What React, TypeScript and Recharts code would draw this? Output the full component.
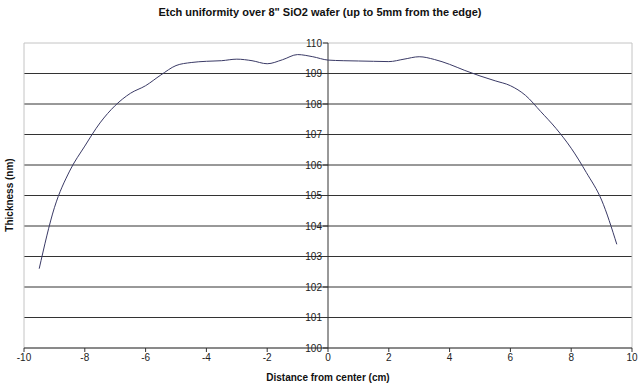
import { CartesianGrid, Line, LineChart, ReferenceArea, ReferenceLine, XAxis, YAxis } from "recharts";

const distance = [
  -9.5, -9, -8.5, -8, -7.5, -7, -6.5, -6, -5.5, -5, -4.5, -4, -3.5, -3, -2.5, -2, -1.5, -1, -0.5, 0,
  0.5, 1, 1.5, 2, 2.5, 3, 3.5, 4, 4.5, 5, 5.5, 6, 6.5, 7, 7.5, 8, 8.5, 9, 9.5,
];
const thickness = [
  102.6, 104.6, 105.8, 106.62, 107.38, 107.95, 108.35, 108.6, 108.95, 109.26, 109.36, 109.4, 109.42,
  109.47, 109.42, 109.32, 109.45, 109.62, 109.55, 109.44, 109.42, 109.41, 109.4, 109.39, 109.47,
  109.55, 109.46, 109.3, 109.1, 108.92, 108.76, 108.6, 108.28, 107.75, 107.2, 106.55, 105.75, 104.85,
  103.4,
];
const xTicks = [-10, -8, -6, -4, -2, 0, 2, 4, 6, 8, 10];
const yTicks = [100, 101, 102, 103, 104, 105, 106, 107, 108, 109, 110];
const gridValues = [101, 102, 103, 104, 105, 106, 107, 108, 109];

const W = 640;
const H = 383;
const M = { top: 43, right: 8, left: 24, bottom: 0 };
const FONT = "'Liberation Sans', Arial, sans-serif";

const rows = distance.map((d, i) => ({ d, t: thickness[i] }));

// y labels sit on the x=0 axis line, not at the left edge
function centerTick(value: number) {
  return (props: any) => {
    const vb = props.viewBox;
    const cx = vb.x + vb.width / 2;
    return (
      <g>
        <line x1={cx - 5} x2={cx} y1={vb.y} y2={vb.y} stroke="#333" />
        <text x={cx - 6} y={vb.y} dy={3.5} textAnchor="end" fontSize={10} fill="#222" fontFamily={FONT}>
          {value}
        </text>
      </g>
    );
  };
}

export default function App() {
  return (
    <div style={{ position: "absolute", left: 0, top: 0, width: W, height: H, background: "#fff" }}>
      <div
        style={{
          position: "absolute", top: 6, left: 0, width: W, textAlign: "center",
          fontFamily: FONT, fontWeight: "bold", fontSize: 11, color: "#111",
        }}
      >
        Etch uniformity over 8" SiO2 wafer (up to 5mm from the edge)
      </div>
      <div
        style={{
          position: "absolute", left: 9, top: 195, transform: "translate(-50%, -50%) rotate(-90deg)",
          fontFamily: FONT, fontWeight: "bold", fontSize: 10, color: "#111", whiteSpace: "nowrap",
        }}
      >
        Thickness (nm)
      </div>
      <LineChart width={W} height={H} data={rows} margin={M}>
        <CartesianGrid horizontal vertical={false} horizontalValues={gridValues} stroke="#333" />
        <ReferenceArea x1={-10} x2={10} y1={100} y2={110} fill="none" stroke="#c4c4c4" ifOverflow="visible" />
        <XAxis
          type="number"
          dataKey="d"
          domain={[-10, 10]}
          ticks={xTicks}
          interval={0}
          stroke="#333"
          tickSize={4}
          tick={{ fontSize: 10, fill: "#222", fontFamily: FONT }}
          height={35}
          label={{
            value: "Distance from center (cm)",
            position: "insideBottom",
            offset: 2,
            style: { fontSize: 10, fontWeight: "bold", fill: "#111", fontFamily: FONT },
          }}
        />
        <YAxis type="number" domain={[100, 110]} ticks={yTicks} width={0} hide />
        <ReferenceLine x={0} stroke="#333" />
        {yTicks.map((v) => (
          <ReferenceLine key={v} y={v} stroke="none" label={centerTick(v)} />
        ))}
        <Line
          type="monotone"
          dataKey="t"
          stroke="#3a3a66"
          strokeWidth={1}
          dot={false}
          isAnimationActive={false}
        />
      </LineChart>
    </div>
  );
}
